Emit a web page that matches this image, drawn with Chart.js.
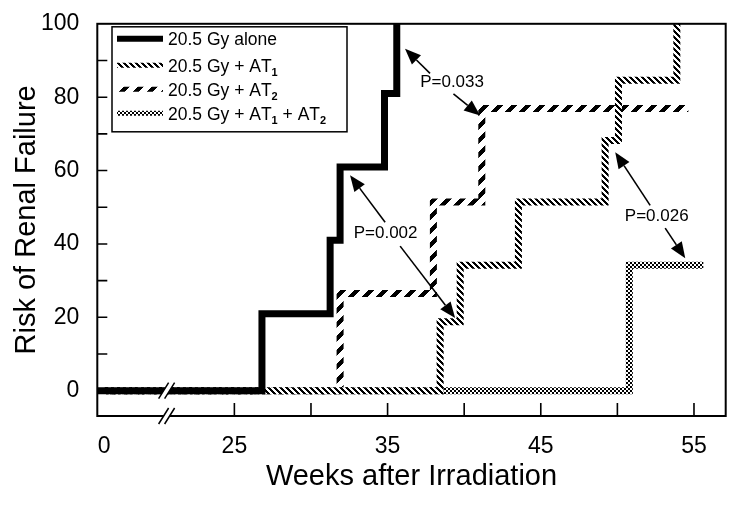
<!DOCTYPE html>
<html><head><meta charset="utf-8">
<script src="https://cdn.jsdelivr.net/npm/chart.js@4.4.1/dist/chart.umd.min.js"></script>
<style>html,body{margin:0;padding:0;background:#fff}#wrap{width:750px;height:507px}</style>
</head><body><div id="wrap"><canvas id="c" width="750" height="507"></canvas></div>
<script>
// ---------- data ----------
const seriesLabels = ['20.5 Gy alone', '20.5 Gy + AT\u2081', '20.5 Gy + AT\u2082', '20.5 Gy + AT\u2081 + AT\u2082'];
const aloneWeeks = [-1.3, 26.8, 31.25, 31.9, 34.8, 35.6];
const aloneRisk  = [0, 21, 41, 61, 81, 100];
const at1Weeks = [0, 38.43, 39.74, 43.54, 49.2, 50.07, 53.88];
const at1Risk  = [0, 18.8, 34.2, 51.4, 68.2, 84.6, 100];
const at2Weeks = [0, 31.9, 37.99, 41.15, 54.63];
const at2Risk  = [0, 26.5, 51.4, 76.9, 76.9];
const bothWeeks = [0, 50.78, 55.61];
const bothRisk  = [0, 34.2, 34.2];
const xTickValues = [0, 25, 30, 35, 40, 45, 50, 55];
const xTickLabels = [0, 25, 35, 45, 55];
const yTickValues = [0, 10, 20, 30, 40, 50, 60, 70, 80, 90, 100];
const yTickLabels = [0, 20, 40, 60, 80, 100];
const pTexts = ['P=0.033', 'P=0.002', 'P=0.026'];
const pTextWeeks = [39.21, 34.87, 52.57];
const pTextRisk  = [84.0, 42.9, 47.4];
const arrowFromWeeks = [37.77, 39.30, 34.84, 35.82, 52.14, 53.12];
const arrowFromRisk  = [86.5, 80.9, 45.9, 39.4, 50.5, 44.3];
const arrowToWeeks   = [36.14, 41.04, 32.55, 39.41, 49.86, 54.43];
const arrowToRisk    = [93.2, 75.0, 58.7, 19.8, 65.0, 36.1];
const breakWeek = 12;
const xTitle = 'Weeks after Irradiation';
const yTitle = 'Risk of Renal Failure';

// ---------- broken x axis (0..25 compressed) ----------
const BREAK_AT = 25, COMPRESS = 0.3402;
class BrokenLinearScale extends Chart.LinearScale {
  virt(v) { return v >= BREAK_AT ? v : BREAK_AT - (BREAK_AT - v) * COMPRESS; }
  unvirt(u) { return u >= BREAK_AT ? u : BREAK_AT - (BREAK_AT - u) / COMPRESS; }
  getPixelForValue(v) {
    const a = this.virt(this.min), b = this.virt(this.max);
    return this.getPixelForDecimal((this.virt(v) - a) / (b - a));
  }
  getValueForPixel(p) {
    const a = this.virt(this.min), b = this.virt(this.max);
    return this.unvirt(a + this.getDecimalForPixel(p) * (b - a));
  }
}
BrokenLinearScale.id = 'brokenLinear';
BrokenLinearScale.defaults = Chart.LinearScale.defaults;
Chart.register(BrokenLinearScale);

// ---------- patterns ----------
function makePattern(size, fn) {
  const c = document.createElement('canvas');
  c.width = c.height = size;
  const g = c.getContext('2d');
  const img = g.createImageData(size, size);
  for (let y = 0; y < size; y++) for (let x = 0; x < size; x++) {
    const i = (y * size + x) * 4;
    const v = fn(x, y) ? 0 : 255;
    img.data[i] = img.data[i + 1] = img.data[i + 2] = v; img.data[i + 3] = 255;
  }
  g.putImageData(img, 0, 0);
  return g.createPattern(c, 'repeat');
}
const hatchBack = makePattern(6, (x, y) => (((x - y) % 6) + 6) % 6 < 3);
const dashFwd = makePattern(14, (x, y) => (x + y) % 14 < 6);
const checker = makePattern(4, (x, y) => ((x >> 1) + (y >> 1)) % 2 === 0);

const pts = (w, r) => w.map((v, i) => ({ x: v, y: r[i] }));
const FONT = "'Liberation Sans', Arial, Helvetica, sans-serif";

const decor = {
  id: 'decor',
  afterDraw(chart) {
    const ctx = chart.ctx, ca = chart.chartArea;
    const xs = chart.scales.x, ys = chart.scales.y;
    ctx.save();
    // frame
    ctx.strokeStyle = '#000'; ctx.lineWidth = 2;
    ctx.strokeRect(ca.left, ca.top, ca.right - ca.left, ca.bottom - ca.top);
    // inward tick marks
    ctx.lineWidth = 1.6;
    ctx.beginPath();
    xs.ticks.forEach(t => {
      if (t.value < BREAK_AT) return;
      const px = xs.getPixelForValue(t.value);
      ctx.moveTo(px, ca.bottom); ctx.lineTo(px, ca.bottom - 13);
    });
    ys.ticks.forEach(t => {
      if (t.value <= 0 || t.value >= 100) return;
      const py = ys.getPixelForValue(t.value);
      ctx.moveTo(ca.left, py); ctx.lineTo(ca.left + 10, py);
    });
    ctx.stroke();
    // axis break marks
    const bx = xs.getPixelForValue(breakWeek);
    [ys.getPixelForValue(0), ca.bottom].forEach(by => {
      const dx = 5, h = 8, sep = 3;
      ctx.fillStyle = '#fff';
      ctx.beginPath();
      ctx.moveTo(bx - sep - dx, by + h); ctx.lineTo(bx - sep + dx, by - h);
      ctx.lineTo(bx + sep + dx, by - h); ctx.lineTo(bx + sep - dx, by + h);
      ctx.closePath(); ctx.fill();
      ctx.strokeStyle = '#000'; ctx.lineWidth = 1.5;
      ctx.beginPath();
      ctx.moveTo(bx - sep - dx, by + h); ctx.lineTo(bx - sep + dx, by - h);
      ctx.moveTo(bx + sep - dx, by + h); ctx.lineTo(bx + sep + dx, by - h);
      ctx.stroke();
    });
    // P-value texts
    ctx.fillStyle = '#000';
    ctx.font = '17px ' + FONT;
    ctx.textAlign = 'center'; ctx.textBaseline = 'middle';
    pTexts.forEach((t, i) => ctx.fillText(t, xs.getPixelForValue(pTextWeeks[i]), ys.getPixelForValue(pTextRisk[i])));
    // arrows
    arrowFromWeeks.forEach((w, i) => {
      const x1 = xs.getPixelForValue(w), y1 = ys.getPixelForValue(arrowFromRisk[i]);
      const x2 = xs.getPixelForValue(arrowToWeeks[i]), y2 = ys.getPixelForValue(arrowToRisk[i]);
      const ang = Math.atan2(y2 - y1, x2 - x1), L = 16, W = 6.5;
      const bxh = x2 - L * Math.cos(ang), byh = y2 - L * Math.sin(ang);
      ctx.strokeStyle = '#000'; ctx.lineWidth = 1.6;
      ctx.beginPath(); ctx.moveTo(x1, y1); ctx.lineTo(bxh, byh); ctx.stroke();
      ctx.beginPath();
      ctx.moveTo(x2, y2);
      ctx.lineTo(bxh + W * Math.sin(ang), byh - W * Math.cos(ang));
      ctx.lineTo(bxh - W * Math.sin(ang), byh + W * Math.cos(ang));
      ctx.closePath(); ctx.fill();
    });
    // legend
    const lx = ca.left + 14.7, ly = ca.top + 3, lw = 235, lh = 105;
    ctx.fillStyle = '#fff'; ctx.fillRect(lx, ly, lw, lh);
    ctx.strokeStyle = '#000'; ctx.lineWidth = 1.5; ctx.strokeRect(lx, ly, lw, lh);
    const rows = [12, 38.5, 62.5, 86.5];
    chart.data.datasets.forEach((ds, i) => {
      const ry = ly + rows[i];
      ctx.strokeStyle = ds.borderColor; ctx.lineWidth = i === 0 ? 6 : 5;
      ctx.lineCap = 'butt';
      ctx.beginPath(); ctx.moveTo(lx + 5, ry); ctx.lineTo(lx + 51, ry); ctx.stroke();
      let tx = lx + 56;
      const base = ry + 6.5;
      ctx.fillStyle = '#000'; ctx.textAlign = 'left'; ctx.textBaseline = 'alphabetic';
      for (const ch of ds.label) {
        if (ch === '\u2081' || ch === '\u2082') {
          ctx.font = 'bold 11px ' + FONT;
          const d = ch === '\u2081' ? '1' : '2';
          ctx.fillText(d, tx, base + 4); tx += ctx.measureText(d).width;
        } else {
          ctx.font = '17.5px ' + FONT;
          ctx.fillText(ch, tx, base); tx += ctx.measureText(ch).width;
        }
      }
    });
    ctx.restore();
  }
};

const common = { pointRadius: 0, stepped: true, fill: false, borderWidth: 7, borderCapStyle: 'butt', borderJoinStyle: 'miter' };
new Chart(document.getElementById('c'), {
  type: 'line',
  data: {
    datasets: [
      Object.assign({ label: seriesLabels[0], data: pts(aloneWeeks, aloneRisk), borderColor: '#000' }, common),
      Object.assign({ label: seriesLabels[1], data: pts(at1Weeks, at1Risk), borderColor: hatchBack }, common),
      Object.assign({ label: seriesLabels[2], data: pts(at2Weeks, at2Risk), borderColor: dashFwd }, common),
      Object.assign({ label: seriesLabels[3], data: pts(bothWeeks, bothRisk), borderColor: checker }, common)
    ]
  },
  options: {
    responsive: false, animation: false, devicePixelRatio: 1,
    layout: { padding: { left: 0, right: 24.3, top: 23.3, bottom: 0 } },
    plugins: { legend: { display: false }, tooltip: { enabled: false } },
    scales: {
      x: {
        type: 'brokenLinear', min: -1.3, max: 57.07,
        afterBuildTicks: s => { s.ticks = xTickValues.map(v => ({ value: v })); },
        afterFit: s => { s.height = 91; },
        grid: { display: false }, border: { display: false },
        ticks: {
          autoSkip: false, maxRotation: 0, minRotation: 0, padding: 9, color: '#000',
          font: { family: FONT, size: 23 },
          callback: v => xTickLabels.includes(v) ? String(v) : ''
        },
        title: { display: true, text: xTitle, color: '#000', font: { family: FONT, size: 29 }, padding: { top: 0, bottom: 12.6 } }
      },
      y: {
        type: 'linear', min: -6.9, max: 100,
        afterBuildTicks: s => { s.ticks = yTickValues.map(v => ({ value: v })); },
        afterFit: s => { s.width = 97.3; },
        grid: { display: false }, border: { display: false },
        ticks: {
          padding: 10, color: '#000', font: { family: FONT, size: 23 },
          callback: v => yTickLabels.includes(v) ? String(v) : ''
        },
        title: { display: true, text: yTitle, color: '#000', font: { family: FONT, size: 29 }, padding: { top: 9.6, bottom: 0 } }
      }
    }
  },
  plugins: [decor]
});
</script></body></html>
